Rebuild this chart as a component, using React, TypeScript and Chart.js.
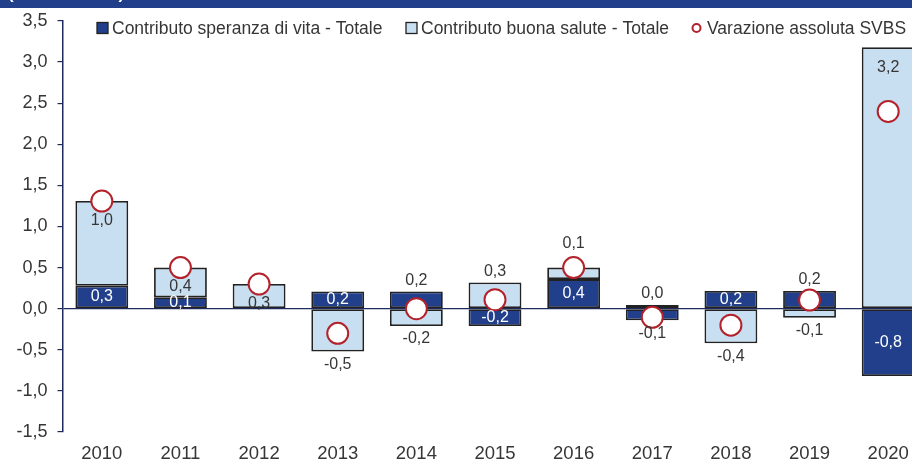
import React, { useEffect, useRef } from 'react';
import { Chart, registerables } from 'chart.js';

Chart.register(...registerables);

const years = ['2010', '2011', '2012', '2013', '2014', '2015', '2016', '2017', '2018', '2019', '2020'];
const lifeExpectancy = [0.28, 0.14, 0, 0.21, 0.21, -0.21, 0.36, -0.14, 0.215, 0.215, -0.82];
const goodHealth = [1.03, 0.36, 0.3, -0.52, -0.21, 0.32, 0.14, 0.045, -0.42, -0.11, 3.18];
const svbs = [1.31, 0.5, 0.3, -0.3, 0.0, 0.11, 0.5, -0.105, -0.2, 0.105, 2.4];
const seriesNames = [
  'Contributo speranza di vita - Totale',
  'Contributo buona salute - Totale',
  'Varazione assoluta SVBS',
];
const yMin = -1.5;
const yMax = 3.5;
const yStep = 0.5;
const headerText = '(valori in anni)';

// label placement (style only)
const lifeLabelPos = ['c', 'c', 'none', 'c', 'out', 'c', 'c', 'out', 'c', 'out', 'c'];
const healthLabelPos = ['top', 'c', 'base', 'out', 'out', 'out', 'far', 'out', 'out', 'out', 'top'];

const DARK = '#223F8C';
const LIGHT = '#C8DEF1';
const RED = '#B3222A';
const NAVY = '#1F2A5E';
const TEXT = '#363636';
const EDGE = '#222222';
const FONT = "'Liberation Sans', Arial, sans-serif";

const fmt = (v: number) => v.toFixed(1).replace('.', ',');

const labelsPlugin = {
  id: 'barLabels',
  afterDatasetsDraw(chart: any) {
    const ctx = chart.ctx;
    ctx.save();
    ctx.font = `16px ${FONT}`;
    ctx.textAlign = 'center';
    ctx.textBaseline = 'middle';
    [1, 2].forEach((di) => {
      const meta = chart.getDatasetMeta(di);
      const isDark = di === 1;
      const values = isDark ? lifeExpectancy : goodHealth;
      const pos = isDark ? lifeLabelPos : healthLabelPos;
      meta.data.forEach((el: any, i: number) => {
        const p = pos[i];
        if (p === 'none') return;
        const v = values[i];
        const { x, y, base } = el.getProps(['x', 'y', 'base'], true);
        const positive = v >= 0;
        let ty = (y + base) / 2;
        let color = TEXT;
        if (p === 'c') {
          if (isDark) color = '#FFFFFF';
          else ty += 4;
        } else if (p === 'top') {
          ty = y + (positive ? 20 : -20);
        } else if (p === 'base') {
          ty = base + (positive ? -5 : 5);
        } else if (p === 'out') {
          ty = y + (positive ? -11 : 13);
        } else if (p === 'far') {
          ty = y + (positive ? -24 : 24);
        }
        ctx.fillStyle = color;
        ctx.fillText(fmt(v), x, ty);
      });
    });
    ctx.restore();
  },
};

const legendPlugin = {
  id: 'customLegend',
  afterDraw(chart: any) {
    const ctx = chart.ctx;
    ctx.save();
    ctx.font = `17.5px ${FONT}`;
    ctx.textBaseline = 'middle';
    ctx.textAlign = 'left';
    const xs = [97, 406, 692];
    const cy = 28;
    seriesNames.forEach((name, i) => {
      const x = xs[i];
      if (i < 2) {
        ctx.fillStyle = i === 0 ? DARK : LIGHT;
        ctx.fillRect(x, cy - 5.5, 11, 11);
        ctx.strokeStyle = EDGE;
        ctx.lineWidth = 1.3;
        ctx.strokeRect(x, cy - 5.5, 11, 11);
      } else {
        ctx.beginPath();
        ctx.arc(x + 4.5, cy, 4, 0, Math.PI * 2);
        ctx.fillStyle = '#fff';
        ctx.fill();
        ctx.strokeStyle = RED;
        ctx.lineWidth = 2;
        ctx.stroke();
      }
      ctx.fillStyle = TEXT;
      ctx.fillText(name, x + 15, cy + 1);
    });
    // header band
    ctx.fillStyle = DARK;
    ctx.fillRect(0, 0, chart.width, 8);
    ctx.fillStyle = '#FFFFFF';
    ctx.font = `bold 17px ${FONT}`;
    ctx.textBaseline = 'alphabetic';
    ctx.fillText(headerText, 8, -1);
    ctx.restore();
  },
};

export default function App() {
  const ref = useRef<HTMLCanvasElement | null>(null);
  useEffect(() => {
    if (!ref.current) return;
    const chart = new Chart(ref.current, {
      type: 'bar',
      data: {
        labels: years,
        datasets: [
          {
            type: 'line' as any,
            label: seriesNames[2],
            data: svbs,
            stack: 'svbs',
            showLine: false,
            order: -1,
            pointStyle: 'circle',
            pointRadius: 10.5,
            pointBorderWidth: 2,
            pointBackgroundColor: '#FFFFFF',
            pointBorderColor: RED,
            borderColor: RED,
            backgroundColor: '#FFFFFF',
          } as any,
          {
            label: seriesNames[0],
            data: lifeExpectancy,
            stack: 'bars',
            backgroundColor: DARK,
            borderColor: EDGE,
            borderWidth: 1.8,
            borderSkipped: false,
            categoryPercentage: 1,
            barPercentage: 0.672,
          },
          {
            label: seriesNames[1],
            data: goodHealth,
            stack: 'bars',
            backgroundColor: LIGHT,
            borderColor: EDGE,
            borderWidth: 1.8,
            borderSkipped: false,
            categoryPercentage: 1,
            barPercentage: 0.672,
          },
        ],
      },
      options: {
        animation: false,
        responsive: true,
        maintainAspectRatio: false,
        layout: { padding: { top: 21, right: 10.6, left: 0, bottom: 0 } },
        plugins: { legend: { display: false }, tooltip: { enabled: false } },
        scales: {
          x: {
            stacked: true,
            grid: { display: false },
            border: { display: false },
            ticks: { color: TEXT, font: { family: FONT, size: 18.5 }, padding: 3 },
            afterFit: (s: any) => {
              s.height = 30;
            },
          },
          y: {
            stacked: true,
            min: yMin,
            max: yMax,
            ticks: {
              stepSize: yStep,
              color: TEXT,
              font: { family: FONT, size: 18 },
              padding: 10,
              callback: (v: any) => fmt(Number(v)),
            },
            grid: {
              color: (c: any) => (c.tick && c.tick.value === 0 ? NAVY : 'rgba(0,0,0,0)'),
              tickColor: NAVY,
              tickLength: 5,
              lineWidth: 1.2,
            },
            border: { display: true, color: NAVY, width: 1.5 },
            afterFit: (s: any) => {
              s.width = 62.5;
            },
          },
        },
      },
      plugins: [labelsPlugin, legendPlugin],
    });
    return () => chart.destroy();
  }, []);
  return (
    <div style={{ position: 'fixed', left: 0, top: 0, width: 912, height: 462, overflow: 'hidden', background: '#fff' }}>
      <div style={{ position: 'relative', width: 940, height: 462 }}>
        <canvas ref={ref} />
      </div>
    </div>
  );
}
